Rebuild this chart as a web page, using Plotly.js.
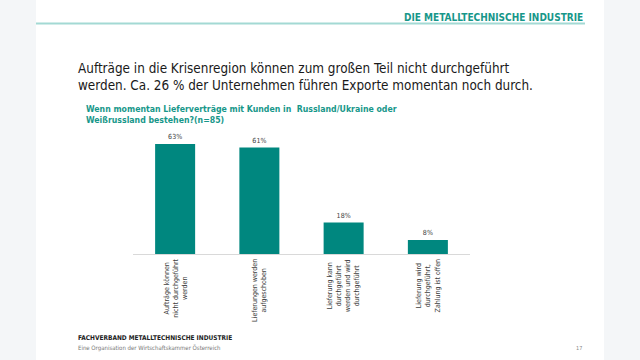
<!DOCTYPE html>
<html><head><meta charset="utf-8">
<script src="https://cdn.plot.ly/plotly-3.0.1.min.js"></script>
<style>html,body{margin:0;padding:0;background:#f4f6f8}#chart{width:640px;height:360px}</style>
</head><body><div id="chart"></div>
<script>
const categories = ["A","B","C","D"];
const categoryLabels = [
  "Aufträge können<br>nicht durchgeführt<br>werden",
  "Lieferungen werden<br>aufgeschoben",
  "Lieferung kann<br>durchgeführt<br>werden und wird<br>durchgeführt",
  "Lieferung wird<br>durchgeführt,<br>Zahlung ist offen"
];
const values = [63, 61, 18, 8];
const valueLabels = values.map(v => v + "%");

const W = 640, H = 360;
const px = x => x / W;
const py = y => 1 - y / H;
const teal = "#00877f";

const trace = {
  type: "bar", x: categories, y: values,
  marker: {color: teal},
  width: 0.475,
  text: valueLabels, textposition: "outside",
  textfont: {family: "DejaVu Sans Condensed", size: 7, color: "#404040"},
  cliponaxis: false, hoverinfo: "none"
};

const annotations = [
  {text: "DIE METALLTECHNISCHE INDUSTRIE", xref: "paper", yref: "paper", x: px(585), y: py(17), xanchor: "right", yanchor: "middle", showarrow: false,
   font: {family: "DejaVu Sans Condensed", size: 10, color: "#17978a", weight: "bold"}},
  {text: "Aufträge in die Krisenregion können zum großen Teil nicht durchgeführt<br>werden. Ca. 26 % der Unternehmen führen Exporte momentan noch durch.", xref: "paper", yref: "paper", x: px(76), y: py(59), xanchor: "left", yanchor: "top", align: "left", showarrow: false,
   font: {family: "DejaVu Sans Condensed", size: 13.4, color: "#1a1a1a"}},
  {text: "Wenn momentan Lieferverträge mit Kunden in  Russland/Ukraine oder<br>Weißrussland bestehen?(n=85)", xref: "paper", yref: "paper", x: px(84), y: py(102), xanchor: "left", yanchor: "top", align: "left", showarrow: false,
   font: {family: "DejaVu Sans Condensed", size: 8.7, color: "#17978a", weight: "bold"}},
  {text: "FACHVERBAND METALLTECHNISCHE INDUSTRIE", xref: "paper", yref: "paper", x: px(76), y: py(338), xanchor: "left", yanchor: "middle", showarrow: false,
   font: {family: "DejaVu Sans Condensed", size: 6.5, color: "#222", weight: "bold"}},
  {text: "Eine Organisation der Wirtschaftskammer Österreich", xref: "paper", yref: "paper", x: px(76), y: py(348), xanchor: "left", yanchor: "middle", showarrow: false,
   font: {family: "DejaVu Sans Condensed", size: 6, color: "#777"}},
  {text: "17", xref: "paper", yref: "paper", x: px(584), y: py(348), xanchor: "right", yanchor: "middle", showarrow: false,
   font: {family: "DejaVu Sans Condensed", size: 5.5, color: "#888"}}
];
categories.forEach((c, i) => annotations.push({
  text: categoryLabels[i], x: c, xref: "x", yref: "paper", y: py(257), xanchor: "center", yanchor: "top",
  textangle: -90, align: "center", showarrow: false,
  font: {family: "DejaVu Sans Condensed", size: 7, color: "#404040"}
}));

const layout = {
  width: W, height: H, margin: {l: 0, r: 0, t: 0, b: 0},
  paper_bgcolor: "#f4f6f8", plot_bgcolor: "rgba(0,0,0,0)",
  showlegend: false,
  xaxis: {domain: [px(133), px(470)], showticklabels: false, ticks: "", showgrid: false, zeroline: false,
          showline: true, linecolor: "#d9d9d9", linewidth: 1, fixedrange: true},
  yaxis: {domain: [py(254), py(131.8)], range: [0, 70], visible: false, fixedrange: true},
  shapes: [
    {type: "rect", xref: "paper", yref: "paper", x0: px(36), x1: px(604), y0: 0, y1: 1, fillcolor: "#ffffff", line: {width: 0}, layer: "below"},
    {type: "line", xref: "paper", yref: "paper", x0: px(36), x1: px(585), y0: py(23.5), y1: py(23.5), line: {color: "#a3d9d4", width: 2}}
  ],
  annotations: annotations
};
Plotly.newPlot("chart", [trace], layout, {displayModeBar: false, staticPlot: true});
</script></body></html>
